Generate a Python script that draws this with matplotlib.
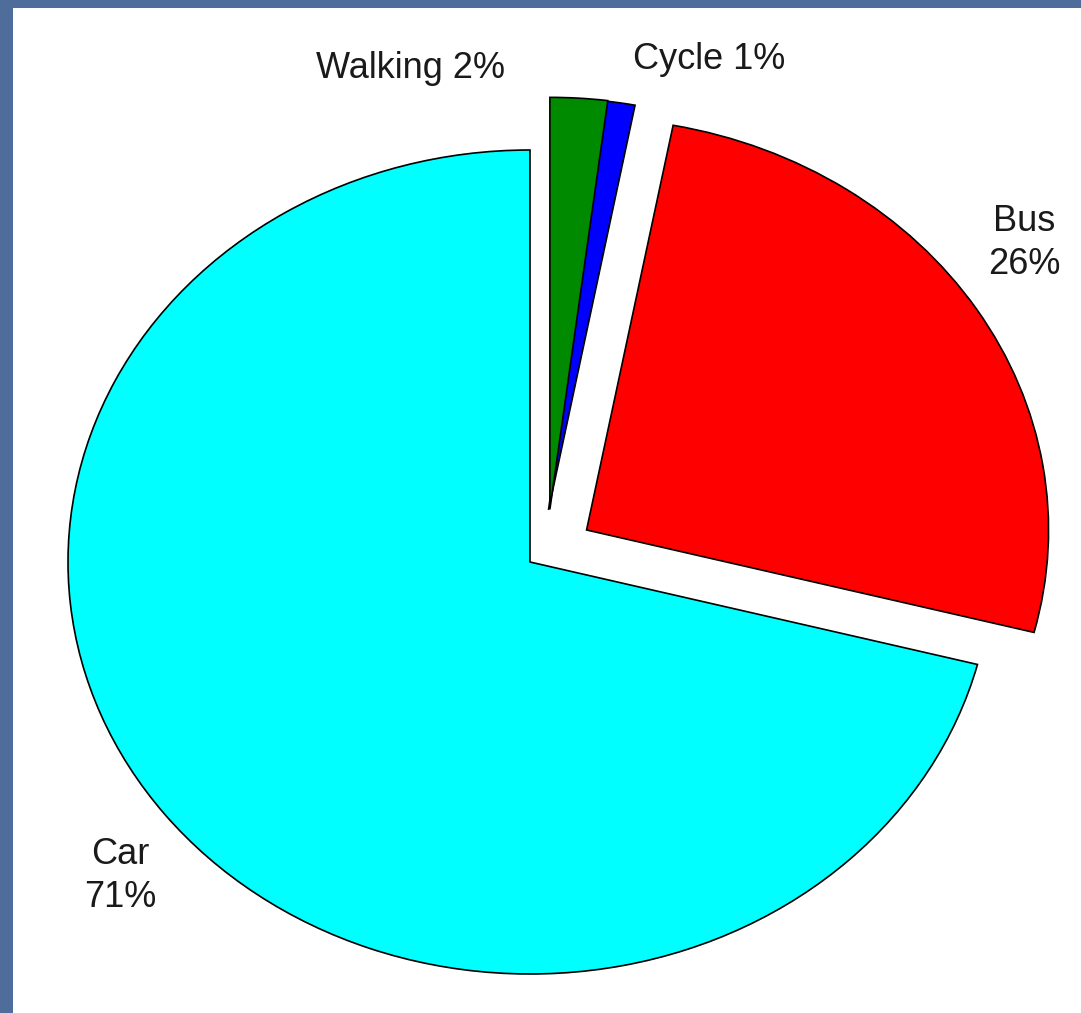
import matplotlib
matplotlib.use("Agg")
import matplotlib.pyplot as plt

# ---- data ----
modes = ["Car", "Bus", "Cycle", "Walking"]
shares = [71, 26, 1, 2]
colors = ["#00ffff", "#ff0000", "#0000ff", "#008a00"]
label_texts = ["Car\n71%", "Bus\n26%", "Cycle 1%", "Walking 2%"]

W, H = 1081, 1013
fig = plt.figure(figsize=(W / 100, H / 100), dpi=100)
fig.patch.set_facecolor("#4f6d9a")

# white panel (slide area)
left_px, top_px = 13, 8
ax = fig.add_axes([left_px / W, 0, 1 - left_px / W, 1 - top_px / H])
ax.set_facecolor("white")

# pixel -> data mapping (pie centre at pixel (530, 562), radii 462 x 412 px)
cx_px, cy_px, rx_px, ry_px = 530, 562, 462, 412
def px2d(px, py):
    return (px - cx_px) / rx_px, (cy_px - py) / ry_px

explode = [0.0, 0.145, 0.128, 0.128]
wedges, _ = ax.pie(shares, colors=colors, startangle=90, counterclock=True,
                   explode=explode,
                   wedgeprops=dict(edgecolor="black", linewidth=1.2))
# the small slices are pulled slightly more to the right in the reference
for w, dx in zip(wedges[2:], [0.02, 0.035]):
    c = w.center
    w.set_center((c[0] + dx, c[1]))

ax.set_aspect("auto")
x0, _ = px2d(left_px, 0)
x1, _ = px2d(W, 0)
_, y1 = px2d(0, top_px)
_, y0 = px2d(0, H)
ax.set_xlim(x0, x1)
ax.set_ylim(y0, y1)
ax.axis("off")
ax.add_patch(plt.Rectangle((x0, y0), x1 - x0, y1 - y0, facecolor="white",
                           edgecolor="none", zorder=-10))

# label positions (pixel centres)
label_px = [(120, 876), (1024, 243), (709, 59), (410, 68)]
for txt, (px, py) in zip(label_texts, label_px):
    x, y = px2d(px, py)
    ax.text(x, y, txt, ha="center", va="center", multialignment="center",
            fontsize=26, family="Liberation Sans", color="#1a1a1a",
            linespacing=1.3)

fig.savefig("out.png", dpi=100, facecolor=fig.get_facecolor())
